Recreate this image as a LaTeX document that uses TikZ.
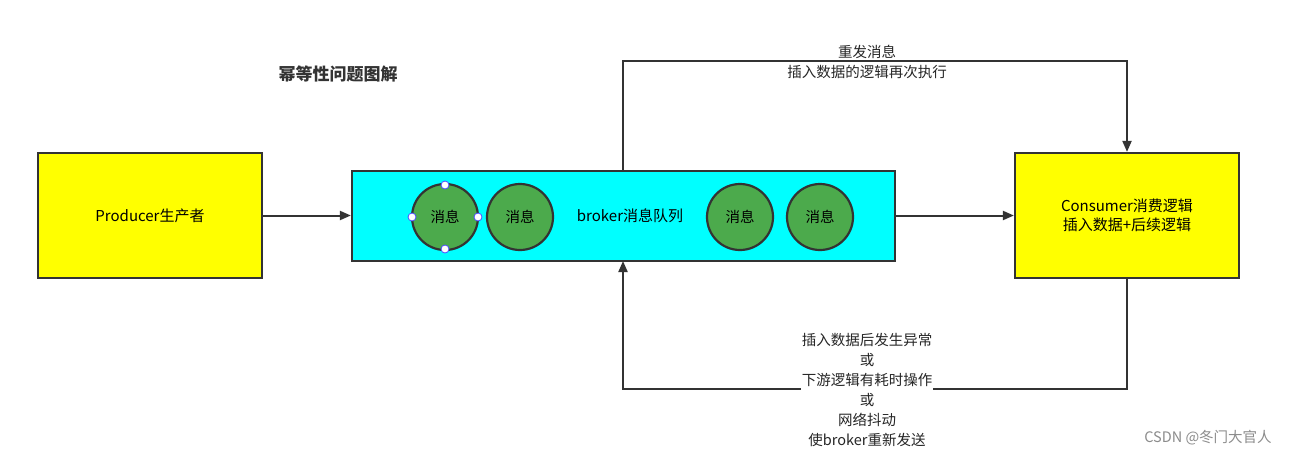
\documentclass[tikz,border=0pt]{standalone}
\usepackage{fontspec}
\setmainfont{Noto Sans CJK SC}
\usetikzlibrary{arrows.meta}
\definecolor{cy}{RGB}{0,255,255}
\definecolor{yl}{RGB}{255,255,0}
\definecolor{gr}{RGB}{76,170,76}
\definecolor{ln}{RGB}{51,51,51}
\begin{document}
\begin{tikzpicture}[x=1pt,y=-1pt,
  box/.style={draw=ln,line width=2.2pt,minimum width=224pt,minimum height=125pt,fill=yl,font=\fontsize{15}{19}\selectfont,align=center},
  msg/.style={circle,draw=ln,line width=2.2pt,fill=gr,minimum size=66pt,font=\fontsize{14.5}{17}\selectfont},
  hnd/.style={circle,draw=blue!70,fill=white,inner sep=0pt,minimum size=8pt,line width=0.8pt},
  conn/.style={draw=ln,line width=2pt,-{Triangle[length=11pt,width=9pt]}},
  lbl/.style={font=\fontsize{14.5}{20}\selectfont,align=center,text=black!85}]
\useasboundingbox (0,0) rectangle (1303,456);
\fill[white] (0,0) rectangle (1303,456);
\node[font=\bfseries\fontsize{17}{20}\selectfont,text=black!80] (title) at (338,74) {幂等性问题图解};
\node[box] (prod) at (150,215.5) {Producer生产者};
\node[box] (cons) at (1127,215.5) {Consumer消费逻辑\\插入数据+后续逻辑};
\node[draw=ln,line width=2.2pt,fill=cy,minimum width=543pt,minimum height=90pt] (brk) at (623.5,216) {};
\node[font=\fontsize{15}{18}\selectfont] (bl) at (630,216) {broker消息队列};
\node[msg] (m1) at (445,217) {消息};
\node[msg] (m2) at (520,217) {消息};
\node[msg] (m3) at (740,217) {消息};
\node[msg] (m4) at (820,217) {消息};
\node[hnd] (h1) at (445,185) {};
\node[hnd] (h2) at (445,249) {};
\node[hnd] (h3) at (412,217) {};
\node[hnd] (h4) at (478,217) {};
\draw[conn] (prod.east) -- (brk.west |- prod.east);
\draw[conn] (brk.east |- cons.west) -- (cons.west);
\coordinate (t1) at (623,61);
\coordinate (t2) at (1127,61);
\draw[conn] (623,171) -- (t1) -- (t2) -- (cons.north);
\coordinate (b1) at (1127,389);
\coordinate (b2) at (623,389);
\draw[conn] (cons.south) -- (b1) -- (b2) -- (623,261);
\node[lbl] (tl) at (867,62) {重发消息\\插入数据的逻辑再次执行};
\node[lbl,fill=white,inner sep=1pt] (bl2) at (867,390) {插入数据后发生异常\\或\\下游逻辑有耗时操作\\或\\网络抖动\\使broker重新发送};
\node[font=\fontsize{14.5}{17}\selectfont,text=black!45] (wm) at (1208,438) {CSDN @冬门大官人};
\end{tikzpicture}
\end{document}
